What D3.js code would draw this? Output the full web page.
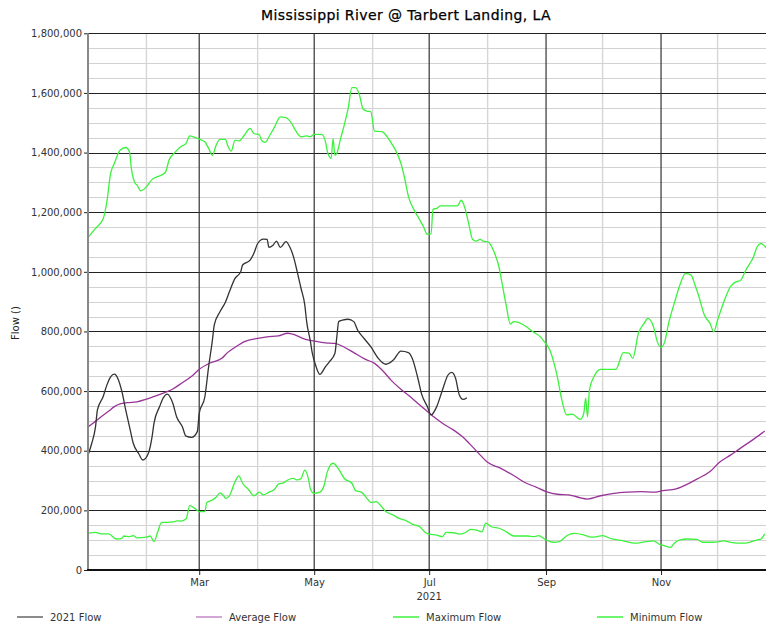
<!DOCTYPE html>
<html>
<head>
<meta charset="utf-8">
<script src="https://cdn.jsdelivr.net/npm/d3@7"></script>
<style>
  html, body { margin: 0; padding: 0; background: #fff; }
  svg { display: block; font-family: "DejaVu Sans", sans-serif; }
</style>
</head>
<body>
<svg id="chart" width="766" height="623"></svg>
<script>
// ---- DATA (day = days since Jan 1 2021, value = flow) ----
const title = "Mississippi River @ Tarbert Landing, LA";
const yAxisTitle = "Flow ()";
const yearLabel = "2021";
const seriesNames = ["2021 Flow", "Average Flow", "Maximum Flow", "Minimum Flow"];
const yTickValues = [0, 200000, 400000, 600000, 800000, 1000000, 1200000, 1400000, 1600000, 1800000];
const monthLabels = ["Mar", "May", "Jul", "Sep", "Nov"];

const flow2021 = [[0,385000],[2,425000],[4,481000],[5,537000],[8,581000],[10,620000],[12,648000],[14,657000],[16,640000],[18,598000],[20,537000],[22,481000],[24,425000],[27,389000],[29,369000],[32,391000],[34,447000],[35,492000],[38,548000],[40,578000],[42,590000],[45,559000],[47,514000],[50,481000],[52,449000],[55,445000],[58,464000],[59,525000],[62,581000],[64,682000],[66,771000],[67,822000],[70,866000],[73,900000],[75,933000],[78,978000],[81,1000000],[82,1023000],[86,1039000],[88,1062000],[90,1095000],[93,1110000],[95,1109000],[96,1082000],[98,1088000],[100,1103000],[102,1082000],[105,1101000],[107,1084000],[109,1051000],[111,1000000],[113,945000],[115,889000],[116,833000],[118,766000],[119,727000],[121,682000],[123,656000],[126,682000],[128,698000],[131,727000],[132,782000],[133,833000],[135,838000],[138,841000],[141,833000],[143,805000],[146,780000],[150,749000],[154,710000],[158,690000],[162,704000],[166,734000],[170,729000],[172,710000],[175,643000],[177,590000],[180,548000],[182,520000],[185,548000],[188,603000],[191,654000],[193,663000],[195,643000],[197,587000],[199,572000],[201,578000]];

const averageFlow = [[0,480000],[3,494000],[7,514000],[11,533000],[14,548000],[17,557000],[21,561000],[26,564000],[31,573000],[36,584000],[41,596000],[45,607000],[50,628000],[55,650000],[59,673000],[65,695000],[71,710000],[74,729000],[78,747000],[83,766000],[90,777000],[95,782000],[101,785000],[106,794000],[110,788000],[115,774000],[120,768000],[126,762000],[131,760000],[136,747000],[141,729000],[147,707000],[152,693000],[156,671000],[161,635000],[166,606000],[171,581000],[176,553000],[183,516000],[188,492000],[194,469000],[199,445000],[204,413000],[208,386000],[212,361000],[219,341000],[226,316000],[231,296000],[238,277000],[243,263000],[249,254000],[255,252000],[260,244000],[265,238000],[272,249000],[279,257000],[286,261000],[293,263000],[300,261000],[305,266000],[312,272000],[318,288000],[323,305000],[330,330000],[335,361000],[341,386000],[346,408000],[353,438000],[359,466000]];

const maximumFlow = [[0,1115000],[4,1146000],[8,1177000],[10,1235000],[12,1330000],[14,1364000],[17,1408000],[20,1417000],[22,1403000],[23,1347000],[25,1297000],[26,1291000],[28,1272000],[31,1285000],[34,1310000],[38,1322000],[41,1333000],[43,1375000],[46,1400000],[49,1419000],[52,1431000],[54,1456000],[56,1453000],[59,1445000],[62,1436000],[64,1414000],[66,1391000],[68,1425000],[70,1444000],[73,1444000],[74,1425000],[76,1405000],[78,1442000],[80,1439000],[83,1459000],[86,1481000],[88,1464000],[91,1459000],[92,1442000],[94,1434000],[96,1453000],[99,1486000],[102,1520000],[105,1517000],[108,1498000],[110,1475000],[113,1453000],[116,1456000],[118,1453000],[120,1461000],[124,1461000],[126,1436000],[127,1403000],[129,1380000],[130,1447000],[131,1391000],[132,1397000],[134,1447000],[136,1494000],[138,1548000],[140,1618000],[142,1618000],[144,1593000],[146,1545000],[148,1539000],[150,1537000],[152,1472000],[156,1470000],[158,1459000],[161,1431000],[164,1397000],[166,1364000],[168,1313000],[170,1252000],[173,1207000],[175,1185000],[178,1151000],[180,1126000],[182,1127000],[183,1210000],[185,1213000],[187,1221000],[192,1221000],[196,1221000],[198,1240000],[200,1213000],[202,1160000],[204,1109000],[206,1103000],[208,1109000],[210,1102000],[212,1101000],[215,1073000],[218,1017000],[220,950000],[222,883000],[224,825000],[226,833000],[229,829000],[233,814000],[236,799000],[240,782000],[242,766000],[245,738000],[247,699000],[249,648000],[251,581000],[254,520000],[257,523000],[259,514000],[261,505000],[263,525000],[264,576000],[265,514000],[266,603000],[268,643000],[272,673000],[277,673000],[280,673000],[284,729000],[287,727000],[289,710000],[292,794000],[295,827000],[297,844000],[300,816000],[302,766000],[304,747000],[306,766000],[308,827000],[311,894000],[314,956000],[317,995000],[320,989000],[322,956000],[324,919000],[327,855000],[330,827000],[332,799000],[334,838000],[337,894000],[341,952000],[344,967000],[346,970000],[349,1006000],[353,1050000],[355,1084000],[357,1095000],[359,1086000],[360,1080000]];

const minimumFlow = [[0,123000],[4,126000],[7,121000],[11,121000],[15,104000],[18,106000],[19,114000],[22,112000],[24,115000],[26,108000],[31,110000],[33,114000],[35,95000],[37,128000],[39,160000],[42,160000],[46,162000],[47,165000],[49,164000],[52,171000],[54,216000],[57,205000],[59,196000],[62,196000],[63,226000],[66,235000],[68,244000],[70,259000],[72,249000],[73,240000],[75,249000],[78,296000],[80,316000],[82,291000],[85,271000],[88,249000],[91,261000],[93,252000],[96,261000],[99,271000],[101,288000],[104,293000],[106,302000],[109,307000],[111,302000],[113,307000],[115,335000],[117,304000],[118,271000],[120,257000],[123,261000],[125,279000],[127,330000],[130,358000],[133,338000],[136,307000],[140,291000],[142,266000],[145,261000],[148,240000],[150,227000],[153,229000],[155,218000],[158,196000],[162,184000],[165,173000],[169,165000],[172,154000],[176,145000],[179,126000],[181,120000],[185,117000],[188,112000],[190,126000],[194,125000],[197,120000],[200,125000],[203,136000],[206,134000],[209,128000],[211,157000],[214,145000],[218,140000],[222,128000],[226,114000],[233,114000],[237,112000],[239,115000],[243,101000],[247,93000],[250,95000],[254,115000],[258,123000],[263,118000],[267,110000],[270,112000],[273,115000],[278,104000],[284,98000],[290,90000],[296,95000],[300,98000],[303,87000],[306,81000],[309,76000],[311,90000],[314,101000],[318,104000],[323,103000],[326,93000],[332,93000],[337,98000],[341,93000],[347,90000],[351,93000],[355,101000],[357,104000],[359,121000]];

// ---- LAYOUT ----
const W = 766, H = 623;
const plotLeft = 88, plotTop = 33.3, plotBottom = 570;
const pxPerDay = 1.885;
const yearStart = new Date(2021, 0, 1), yearEnd = new Date(2022, 0, 1);
const toDate = d => d3.timeDay.offset(yearStart, d);

const x = d3.scaleTime().domain([yearStart, yearEnd]).range([plotLeft, plotLeft + 365 * pxPerDay]);
const y = d3.scaleLinear().domain([0, 1800000]).range([plotBottom, plotTop]);

const svg = d3.select("#chart");
svg.append("rect").attr("width", W).attr("height", H).attr("fill", "#fff");

const snap = v => Math.round(v) + 0.5;

// horizontal grid: minor every 50k, major every 200k
const grid = svg.append("g");
const minorY = d3.range(50000, 1800000, 50000).filter(v => v % 200000 !== 0);
grid.selectAll(".hmin").data(minorY).join("line")
  .attr("x1", plotLeft).attr("x2", W)
  .attr("y1", d => snap(y(d))).attr("y2", d => snap(y(d)))
  .attr("stroke", "#d2d2d2").attr("stroke-width", 1);

// vertical grid: month starts
const months = d3.timeMonth.range(d3.timeMonth.offset(yearStart, 1), yearEnd);
const oddMonths = months.filter(m => m.getMonth() % 2 === 0); // Mar, May, Jul, Sep, Nov
const evenMonths = months.filter(m => m.getMonth() % 2 === 1); // Feb, Apr, ...
grid.selectAll(".vmin").data(evenMonths).join("line")
  .attr("x1", d => x(d)).attr("x2", d => x(d))
  .attr("y1", plotTop).attr("y2", plotBottom)
  .attr("stroke", "#d6d6d6").attr("stroke-width", 1.4);

grid.selectAll(".hmaj").data(yTickValues.filter(v => v > 0)).join("line")
  .attr("x1", plotLeft).attr("x2", W)
  .attr("y1", d => snap(y(d))).attr("y2", d => snap(y(d)))
  .attr("stroke", "#222").attr("stroke-width", 1);

grid.selectAll(".vmaj").data(oddMonths).join("line")
  .attr("x1", d => x(d)).attr("x2", d => x(d))
  .attr("y1", plotTop).attr("y2", plotBottom)
  .attr("stroke", "#333").attr("stroke-width", 1.2);

// series
const line = d3.line()
  .x(d => x(toDate(d[0])))
  .y(d => y(d[1]))
  .curve(d3.curveMonotoneX);

const colors = ["#333333", "#993399", "#3cf23c", "#3cf23c"];
const allSeries = [flow2021, averageFlow, maximumFlow, minimumFlow];
const plot = svg.append("g");
[3, 2, 1, 0].forEach(i => {
  plot.append("path").datum(allSeries[i])
    .attr("d", line)
    .attr("fill", "none")
    .attr("stroke", colors[i])
    .attr("stroke-width", 1.3)
    .attr("stroke-linejoin", "round");
});

// y axis
const yAxis = svg.append("g").attr("transform", `translate(${plotLeft},0)`)
  .call(d3.axisLeft(y).tickValues(yTickValues).tickFormat(d3.format(",")).tickSize(4).tickPadding(2));
yAxis.select(".domain").remove();
yAxis.selectAll(".tick line").attr("stroke", "#222");
yAxis.selectAll("text").attr("font-size", 10).attr("fill", "#333").attr("font-family", "DejaVu Sans");
svg.append("line").attr("x1", plotLeft).attr("x2", plotLeft).attr("y1", plotTop).attr("y2", plotBottom)
  .attr("stroke", "#888").attr("stroke-width", 2);

// x axis
const xAxis = svg.append("g").attr("transform", `translate(0,${plotBottom})`)
  .call(d3.axisBottom(x).tickValues(oddMonths).tickFormat((d, i) => monthLabels[i]).tickSize(5).tickPadding(4));
xAxis.select(".domain").remove();
xAxis.selectAll(".tick line").attr("stroke", "#222");
xAxis.selectAll("text").attr("font-size", 10).attr("fill", "#333").attr("font-family", "DejaVu Sans");
svg.append("line").attr("x1", plotLeft - 1).attr("x2", W).attr("y1", plotBottom).attr("y2", plotBottom)
  .attr("stroke", "#111").attr("stroke-width", 2);

svg.append("text").attr("x", x(oddMonths[2])).attr("y", 600)
  .attr("text-anchor", "middle").attr("font-size", 10).attr("fill", "#333").text(yearLabel);

// title
svg.append("text").attr("x", 406).attr("y", 20).attr("text-anchor", "middle")
  .attr("font-size", 14).attr("letter-spacing", 0.4).attr("fill", "#000")
  .attr("stroke", "#000").attr("stroke-width", 0.25).text(title);

// y-axis title
svg.append("text").attr("transform", "translate(19,323) rotate(-90)")
  .attr("text-anchor", "middle").attr("font-size", 10).attr("fill", "#222").text(yAxisTitle);

// legend
const legendX = [17, 196, 393, 597];
const legendColors = ["#666666", "#c58ac5", "#3cf23c", "#3cf23c"];
const legend = svg.append("g");
seriesNames.forEach((name, i) => {
  legend.append("line").attr("x1", legendX[i]).attr("x2", legendX[i] + 26)
    .attr("y1", 617).attr("y2", 617).attr("stroke", legendColors[i]).attr("stroke-width", 1.5);
  legend.append("text").attr("x", legendX[i] + 33).attr("y", 620.5)
    .attr("font-size", 10).attr("fill", "#333").text(name);
});
</script>
</body>
</html>
